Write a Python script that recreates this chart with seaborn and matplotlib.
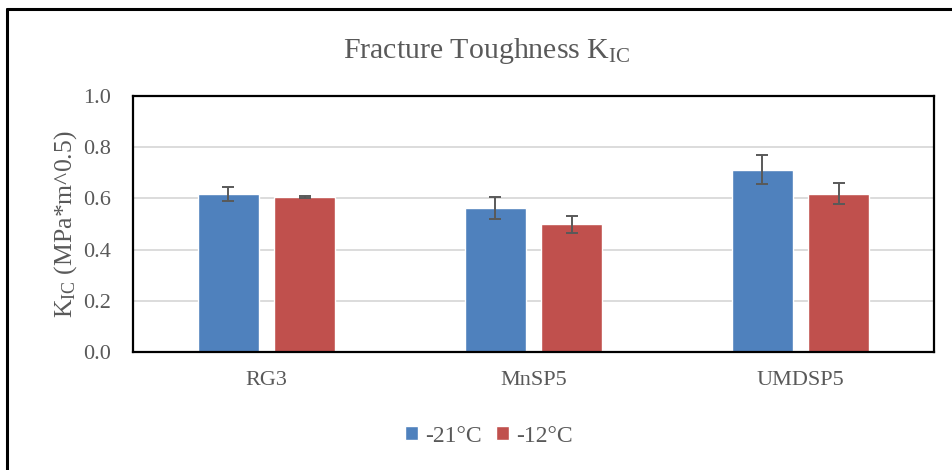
import matplotlib
matplotlib.use("Agg")
import matplotlib.pyplot as plt
from matplotlib.lines import Line2D
from matplotlib.patches import Patch
import seaborn as sns
import pandas as pd

# Fracture toughness per mix and test temperature
materials = ["RG3", "MnSP5", "UMDSP5"]
temperatures = ["-21°C", "-12°C"]
kic_minus21 = [0.617, 0.561, 0.712]
kic_minus12 = [0.607, 0.499, 0.618]
sd_minus21 = [0.026, 0.043, 0.057]
sd_minus12 = [0.004, 0.033, 0.041]
yticks = [0.0, 0.2, 0.4, 0.6, 0.8, 1.0]

BLUE = "#4F81BD"
RED = "#C0504D"
TEXT = "#595959"

sns.set_theme(style="white")
plt.rcParams["font.family"] = ["Liberation Serif", "DejaVu Serif"]
plt.rcParams["mathtext.default"] = "regular"

df = pd.DataFrame({
    "material": materials * 2,
    "temp": [temperatures[0]] * len(materials) + [temperatures[1]] * len(materials),
    "kic": kic_minus21 + kic_minus12,
    "sd": sd_minus21 + sd_minus12,
})

fig = plt.figure(figsize=(9.52, 4.70), dpi=100)
W, H = 952, 470
ax = fig.add_axes([133 / W, 1 - 352 / H, 801 / W, 256 / H])

sns.barplot(data=df, x="material", y="kic", hue="temp", order=materials,
            hue_order=temperatures, palette=[BLUE, RED], saturation=1,
            width=0.57, gap=0.21, errorbar=None, legend=False, ax=ax, zorder=2)

# standard deviation whiskers on each bar
for cont, errs in zip(ax.containers, [sd_minus21, sd_minus12]):
    for bar, e in zip(cont, errs):
        x = bar.get_x() + bar.get_width() / 2
        ax.errorbar(x, bar.get_height(), yerr=e, color=TEXT, lw=1.4,
                    capsize=4.3, capthick=1.4, zorder=3)

ax.set_xlim(-0.5, len(materials) - 0.5)
ax.set_ylim(0, 1.0)
ax.set_yticks(yticks)
ax.set_yticklabels([f"{t:.1f}" for t in yticks])
ax.yaxis.grid(True, color="#D9D9D9", lw=1.3, zorder=0)
ax.set_axisbelow(True)
ax.set_xlabel("")
ax.set_ylabel("K$_{IC}$ (MPa*m^0.5)", fontsize=18.5, color=TEXT, labelpad=3)
ax.tick_params(axis="both", length=0, labelsize=16, labelcolor=TEXT)
ax.tick_params(axis="y", pad=16)
ax.tick_params(axis="x", pad=14)
for s in ax.spines.values():
    s.set_visible(True)
    s.set_color("black")
    s.set_linewidth(1.6)

fig.text(487 / W, 1 - 51 / H, "Fracture Toughness K$_{IC}$", ha="center",
         va="center", fontsize=21.5, color=TEXT)

handles = [Patch(facecolor=BLUE), Patch(facecolor=RED)]
fig.legend(handles, temperatures, loc="center", bbox_to_anchor=(489 / W, 1 - 436 / H),
           ncol=2, frameon=False, fontsize=17, labelcolor=TEXT,
           handlelength=0.55, handleheight=0.55, handletextpad=0.3, columnspacing=0.6)

# chart area border (top and left edges)
fig.add_artist(Line2D([7 / W, 7 / W], [0, 1 - 9 / H], color="black", lw=2.2,
                      transform=fig.transFigure))
fig.add_artist(Line2D([7 / W, 1], [1 - 9 / H, 1 - 9 / H], color="black", lw=2.2,
                      transform=fig.transFigure))

fig.savefig("out.png", dpi=100, facecolor="white")
